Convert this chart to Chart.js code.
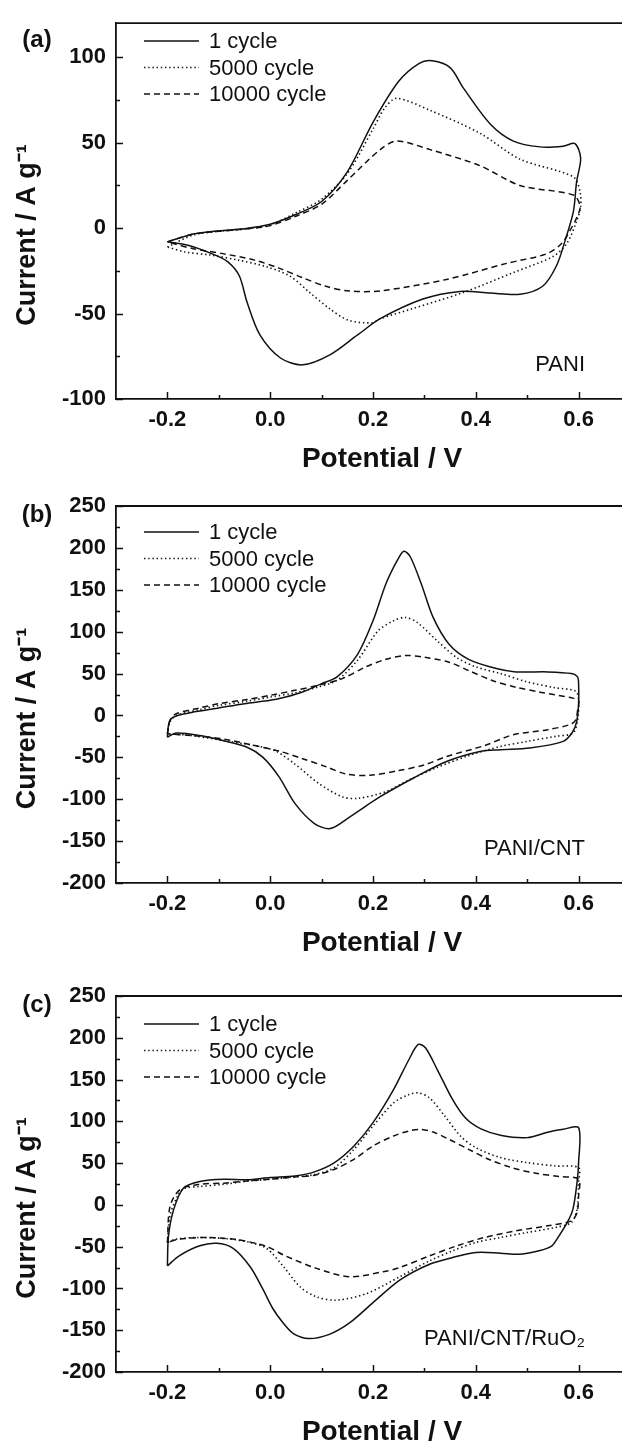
<!DOCTYPE html>
<html>
<head>
<meta charset="utf-8">
<script src="https://cdn.jsdelivr.net/npm/chart.js@4.4.1/dist/chart.umd.min.js"></script>
<style>
  html, body { margin: 0; padding: 0; background: #fff; }
  #page { position: relative; width: 622px; height: 1442px; overflow: hidden; background: #fff; }
  #page canvas { position: absolute; left: 0; }
</style>
</head>
<body>
<div id="page">
  <canvas id="panel-a" width="640" height="475" style="top:0;width:640px;height:475px"></canvas>
  <canvas id="panel-b" width="640" height="480" style="top:475px;width:640px;height:480px"></canvas>
  <canvas id="panel-c" width="640" height="487" style="top:955px;width:640px;height:487px"></canvas>
</div>
<script>
// series names
const seriesLabels = ["1 cycle", "5000 cycle", "10000 cycle"];

// x axis (potential, V)
const xTickValues = [-0.2, 0.0, 0.2, 0.4, 0.6];
const xTickLabels = ["-0.2", "0.0", "0.2", "0.4", "0.6"];
const xMinorTicks = [-0.1, 0.1, 0.3, 0.5];

// y axis (current, A/g)
const yTicksA = [-100, -50, 0, 50, 100];
const yMinorA = [-75, -25, 25, 75];
const yTicksBC = [-200, -150, -100, -50, 0, 50, 100, 150, 200, 250];
const yMinorBC = [-175, -125, -75, -25, 25, 75, 125, 175, 225];

// (a) PANI  -- [potential, current], anodic sweep then cathodic sweep
const pani1 = [[-0.2,-8],[-0.15,-3.4],[-0.1,-1.5],[-0.05,-0.3],[0,2.3],[0.05,8],[0.1,15.6],[0.15,33],[0.2,62],[0.25,86],[0.29,96.5],[0.315,98],[0.35,94],[0.376,82],[0.428,61],[0.473,51],[0.525,47.6],[0.57,48],[0.593,49.5],[0.604,41],[0.596,27],[0.59,10],[0.574,-7],[0.557,-22],[0.53,-34],[0.486,-38.7],[0.428,-38],[0.369,-37],[0.297,-41.5],[0.214,-53],[0.17,-62.5],[0.117,-74],[0.063,-80],[0.02,-76],[-0.02,-62.5],[-0.045,-43.4],[-0.06,-28],[-0.083,-19.6],[-0.114,-14.9],[-0.16,-10],[-0.2,-8]];
const pani5000 = [[-0.2,-11],[-0.15,-4],[-0.1,-1.8],[-0.05,-0.5],[0,2],[0.05,9],[0.1,17],[0.15,32],[0.2,58],[0.222,70],[0.246,76],[0.311,69],[0.408,55.6],[0.486,40.4],[0.59,30],[0.603,21],[0.604,12.7],[0.596,4],[0.577,-9],[0.55,-16.6],[0.473,-26],[0.375,-37.7],[0.278,-47],[0.214,-53],[0.198,-55.4],[0.152,-53.9],[0.115,-47],[0.077,-37.7],[0.038,-28],[-0.008,-22.5],[-0.062,-18.7],[-0.115,-15.8],[-0.166,-13.9],[-0.2,-11]];
const pani10000 = [[-0.2,-8],[-0.15,-3.5],[-0.1,-1.8],[-0.05,-0.5],[0,1.5],[0.05,7],[0.1,14],[0.15,28],[0.214,46],[0.246,51],[0.311,46],[0.408,36.6],[0.486,25],[0.59,19.4],[0.603,12.7],[0.596,6],[0.583,-1.5],[0.567,-9],[0.538,-15],[0.46,-20.6],[0.343,-30],[0.214,-36.7],[0.154,-36.8],[0.108,-34],[0.063,-29],[0.017,-23.4],[-0.03,-18.7],[-0.092,-14.9],[-0.15,-12],[-0.2,-8]];

// (b) PANI/CNT
const cnt1 = [[-0.2,-26],[-0.198,-12],[-0.193,-4],[-0.18,0],[-0.15,4],[-0.1,9],[-0.05,14],[0,18],[0.03,22],[0.063,28],[0.1,38],[0.13,46],[0.17,73],[0.2,113],[0.225,157],[0.248,186],[0.26,196],[0.272,190],[0.294,157],[0.317,117],[0.348,85],[0.386,67],[0.44,56],[0.478,52],[0.54,52],[0.586,50],[0.598,46],[0.6,38],[0.6,14],[0.596,-8],[0.588,-20],[0.57,-31],[0.505,-39],[0.448,-41],[0.408,-43],[0.343,-55],[0.278,-75],[0.214,-97],[0.155,-121],[0.117,-135],[0.086,-129],[0.048,-105],[0.017,-73],[-0.014,-50],[-0.045,-38],[-0.092,-30],[-0.137,-24],[-0.183,-21],[-0.2,-26]];
const cnt5000 = [[-0.2,-22],[-0.195,-8],[-0.183,0],[-0.137,7],[-0.1,12],[-0.045,17],[0,22],[0.048,27],[0.094,34],[0.13,42],[0.17,66],[0.21,101],[0.24,113],[0.263,117],[0.286,111],[0.325,89],[0.363,69],[0.4,58],[0.448,50],[0.5,40],[0.555,33],[0.594,29],[0.6,18],[0.598,-6],[0.589,-21],[0.555,-25],[0.5,-31],[0.448,-37],[0.386,-48],[0.325,-62],[0.27,-77],[0.225,-91],[0.17,-99],[0.14,-97],[0.094,-81],[0.048,-58],[0.009,-42],[-0.03,-36],[-0.092,-30],[-0.152,-24],[-0.2,-22]];
const cnt10000 = [[-0.2,-22],[-0.195,-6],[-0.183,2],[-0.137,9],[-0.1,14],[-0.045,19],[0,24],[0.048,30],[0.094,36],[0.14,44],[0.186,58],[0.225,67],[0.263,71.5],[0.3,69.5],[0.348,63.5],[0.386,53.6],[0.432,41.7],[0.478,33.7],[0.525,27.8],[0.586,21],[0.6,18],[0.598,6],[0.594,-6],[0.583,-11],[0.54,-17],[0.473,-23],[0.417,-36],[0.343,-49],[0.3,-59],[0.248,-66],[0.194,-71.4],[0.148,-70],[0.11,-61.5],[0.063,-51.6],[0.017,-42.5],[-0.03,-36],[-0.092,-28],[-0.152,-24],[-0.2,-22]];

// (c) PANI/CNT/RuO2
const ruo1 = [[-0.2,-73],[-0.198,-38],[-0.188,-6],[-0.169,20],[-0.137,28],[-0.09,30.7],[-0.045,30],[0,32.7],[0.048,34.7],[0.086,39.5],[0.125,50.6],[0.163,70.5],[0.2,98.4],[0.24,138],[0.27,174],[0.288,192],[0.302,188],[0.325,162],[0.355,126],[0.38,104],[0.41,91],[0.45,83],[0.5,80.5],[0.54,87],[0.57,90.4],[0.6,92.4],[0.6,50.6],[0.597,27],[0.589,-5],[0.578,-21],[0.562,-37],[0.548,-49],[0.523,-55],[0.486,-59],[0.448,-57.8],[0.4,-57],[0.355,-63],[0.31,-71],[0.252,-90],[0.2,-117],[0.155,-141],[0.115,-155],[0.075,-160],[0.045,-154],[0.026,-142],[0.005,-124],[-0.015,-100],[-0.039,-74],[-0.072,-52],[-0.104,-46],[-0.137,-49],[-0.177,-61],[-0.2,-73]];
const ruo5000 = [[-0.2,-45],[-0.195,-13],[-0.18,11],[-0.168,19.5],[-0.137,22],[-0.09,24.7],[-0.045,28.3],[0,30.7],[0.048,33.5],[0.086,36.3],[0.125,44.6],[0.163,66.5],[0.2,94.4],[0.24,122],[0.27,132],[0.288,134],[0.31,128],[0.34,106],[0.37,82.5],[0.4,68.5],[0.448,56.6],[0.5,50.6],[0.555,46.6],[0.6,44.6],[0.6,27],[0.597,-5],[0.586,-21],[0.555,-27],[0.5,-33],[0.448,-39],[0.4,-45],[0.355,-55],[0.31,-67],[0.252,-86],[0.188,-106],[0.129,-114],[0.09,-110],[0.058,-98],[0.026,-74],[-0.007,-52],[-0.039,-45],[-0.075,-41],[-0.137,-39],[-0.183,-41],[-0.2,-45]];
const ruo10000 = [[-0.2,-45],[-0.195,-2],[-0.176,18],[-0.137,24.7],[-0.09,26],[-0.045,28.7],[0,30.7],[0.048,33.5],[0.086,35.5],[0.125,42.6],[0.163,54.6],[0.2,70.5],[0.24,82.5],[0.27,88.4],[0.293,90.4],[0.317,87.2],[0.348,78.5],[0.386,66.5],[0.425,54.6],[0.47,44.6],[0.517,37.8],[0.563,33.9],[0.6,30.7],[0.6,10.7],[0.597,-9],[0.586,-19],[0.54,-25],[0.478,-31],[0.417,-39],[0.363,-49],[0.31,-61],[0.252,-75],[0.22,-80],[0.155,-86],[0.09,-76],[0.026,-60],[-0.006,-50],[-0.06,-42],[-0.122,-39],[-0.177,-41],[-0.2,-45]];

const ink = "#111";
const fontFamily = "'Liberation Sans', Arial, Helvetica, sans-serif";
const lineStyles = [
  { dash: [], width: 1.5 },
  { dash: [1.4, 2.8], width: 1.6 },
  { dash: [6, 4], width: 1.5 },
];

// draws the parts of the Origin-style frame that chart.js has no option for
const cvDecor = {
  id: "cvDecor",
  afterDraw(chart, args, opts) {
    const ctx = chart.ctx;
    const area = chart.chartArea;
    const xs = chart.scales.x;
    const ys = chart.scales.y;
    const seg = (x1, y1, x2, y2) => {
      ctx.beginPath();
      ctx.moveTo(x1, y1);
      ctx.lineTo(x2, y2);
      ctx.stroke();
    };

    ctx.save();
    ctx.strokeStyle = ink;
    ctx.fillStyle = ink;
    ctx.lineWidth = 1.8;

    // top frame line
    seg(area.left, area.top, area.right + 5, area.top);

    // ticks pointing into the plot
    ctx.lineWidth = 1.5;
    xTickValues.forEach((v) => {
      const px = Math.round(xs.getPixelForValue(v)) + 0.5;
      seg(px, area.bottom, px, area.bottom - 7);
    });
    xMinorTicks.forEach((v) => {
      const px = Math.round(xs.getPixelForValue(v)) + 0.5;
      seg(px, area.bottom, px, area.bottom - 4);
    });
    opts.yMajor.forEach((v) => {
      const py = Math.round(ys.getPixelForValue(v)) + 0.5;
      seg(area.left, py, area.left + 7, py);
    });
    opts.yMinor.forEach((v) => {
      const py = Math.round(ys.getPixelForValue(v)) + 0.5;
      seg(area.left, py, area.left + 4, py);
    });

    // legend
    ctx.font = "22px " + fontFamily;
    ctx.textAlign = "left";
    ctx.textBaseline = "middle";
    chart.data.datasets.forEach((ds, i) => {
      const y = opts.legendTop + i * 26.5;
      ctx.lineWidth = ds.borderWidth;
      ctx.setLineDash(ds.borderDash);
      seg(area.left + 28, y, area.left + 83, y);
      ctx.setLineDash([]);
      ctx.fillText(ds.label, area.left + 93, y + 1);
    });

    // panel letter
    ctx.font = "bold 24px " + fontFamily;
    ctx.textAlign = "center";
    ctx.fillText(opts.letter, 37, opts.letterY);

    // sample name
    ctx.font = "22px " + fontFamily;
    ctx.textAlign = "right";
    ctx.fillText(opts.sample, 585, opts.sampleY);

    // axis titles
    ctx.font = "bold 28px " + fontFamily;
    ctx.textAlign = "center";
    ctx.fillText("Potential / V", 382, area.bottom + 60);

    ctx.save();
    ctx.translate(28, (area.top + area.bottom) / 2 + 24);
    ctx.rotate(-Math.PI / 2);
    ctx.font = "bold 27px " + fontFamily;
    ctx.fillText("Current / A g\u207B\u00B9", 0, 0);
    ctx.restore();

    ctx.restore();
  },
};

const panels = [
  { id: "panel-a", letter: "(a)", sample: "PANI", series: [pani1, pani5000, pani10000],
    yMin: -100, yMax: 120, yMajor: yTicksA, yMinor: yMinorA,
    plotTop: 14, plotBottom: 399, legendTop: 41, letterY: 40, sampleY: 365 },
  { id: "panel-b", letter: "(b)", sample: "PANI/CNT", series: [cnt1, cnt5000, cnt10000],
    yMin: -200, yMax: 250, yMajor: yTicksBC, yMinor: yMinorBC,
    plotTop: 31, plotBottom: 408, legendTop: 57, letterY: 40, sampleY: 374 },
  { id: "panel-c", letter: "(c)", sample: "PANI/CNT/RuO\u2082", series: [ruo1, ruo5000, ruo10000],
    yMin: -200, yMax: 250, yMajor: yTicksBC, yMinor: yMinorBC,
    plotTop: 41, plotBottom: 417, legendTop: 69, letterY: 50, sampleY: 384 },
];

panels.forEach((p) => {
  const canvas = document.getElementById(p.id);
  const H = canvas.height;

  new Chart(canvas.getContext("2d"), {
    type: "scatter",
    data: {
      datasets: p.series.map((pts, i) => ({
        label: seriesLabels[i],
        data: pts.map(([x, y]) => ({ x, y })),
        showLine: true,
        borderColor: ink,
        backgroundColor: ink,
        borderWidth: lineStyles[i].width,
        borderDash: lineStyles[i].dash,
        pointRadius: 0,
        tension: 0.3,
        fill: false,
      })),
    },
    options: {
      responsive: false,
      animation: false,
      layout: { padding: { top: p.plotTop, right: 10, left: 0, bottom: 0 } },
      plugins: {
        legend: { display: false },
        tooltip: { enabled: false },
        cvDecor: p,
      },
      scales: {
        x: {
          type: "linear",
          position: "bottom",
          min: -0.3,
          max: 0.7,
          grid: { display: false, drawTicks: false },
          border: { color: ink, width: 1.8 },
          ticks: {
            color: ink,
            padding: 8,
            font: { family: fontFamily, size: 22, weight: "bold" },
            callback: (v, i) => xTickLabels[i],
          },
          afterBuildTicks: (scale) => {
            scale.ticks = xTickValues.map((value) => ({ value }));
          },
          afterFit: (scale) => {
            scale.height = H - p.plotBottom;
          },
        },
        y: {
          type: "linear",
          position: "left",
          min: p.yMin,
          max: p.yMax,
          grid: { display: false, drawTicks: false },
          border: { color: ink, width: 1.8 },
          ticks: {
            color: ink,
            padding: 10,
            font: { family: fontFamily, size: 22, weight: "bold" },
            callback: (v) => String(v),
          },
          afterBuildTicks: (scale) => {
            scale.ticks = p.yMajor.map((value) => ({ value }));
          },
          afterFit: (scale) => {
            scale.width = 116;
          },
        },
      },
    },
    plugins: [cvDecor],
  });
});
</script>
</body>
</html>
